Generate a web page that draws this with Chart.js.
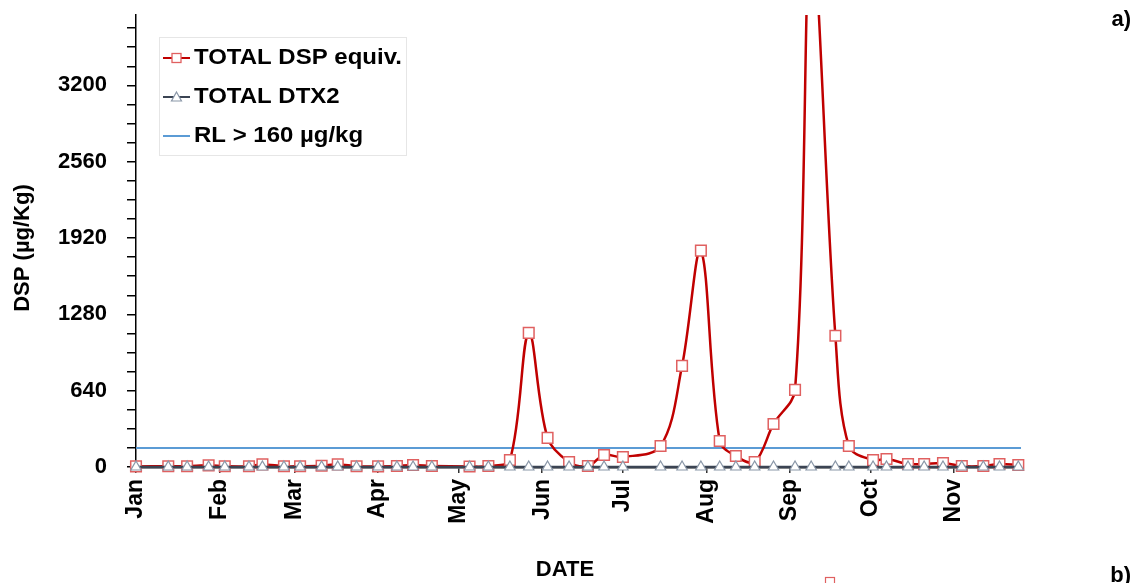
<!DOCTYPE html>
<html lang="en">
<head>
    <meta charset="UTF-8">
    <title>DSP toxins - panel a</title>
    <style>
        body { margin: 0; background: #fff; }
        #wrap { position: relative; width: 1140px; height: 583px; }
    </style>
</head>
<body>
    <div id="wrap"><canvas id="dspChart"></canvas></div>

    <script src="https://cdn.jsdelivr.net/npm/chart.js"></script>
    <script>
        // x values are day-of-year (Jan 1 = 0)
        const monthDays = [0, 31, 59, 90, 120, 151, 181, 212, 243, 273, 304];
        const monthNames = ['Jan', 'Feb', 'Mar', 'Apr', 'May', 'Jun', 'Jul', 'Aug', 'Sep', 'Oct', 'Nov'];

        const sampleDays = [0, 12, 19, 27, 33, 42, 47, 55, 61, 69, 75, 82, 90, 97, 103, 110, 124, 131,
            139, 146, 153, 161, 168, 174, 181, 195, 203, 210, 217, 223, 230, 237, 245, 251, 260, 265,
            274, 279, 287, 293, 300, 307, 315, 321, 328];
        const dspValues = [5, 6, 6, 14, 6, 6, 22, 6, 6, 10, 22, 6, 5, 8, 17, 8, 4, 8,
            59, 1125, 244, 42, 8, 101, 84, 176, 848, 1814, 218, 92, 42, 361, 647, 4500, 1100, 176,
            58, 67, 25, 25, 33, 8, 8, 25, 17];
        const dtx2Values = [0, 0, 0, 0, 0, 0, 0, 0, 0, 0, 0, 0, 0, 0, 0, 0, 0, 0,
            0, 0, 0, 0, 0, 0, 0, 0, 0, 0, 0, 0, 0, 0, 0, 0, 0, 0,
            0, 0, 0, 0, 0, 0, 0, 0, 0];
        const rlDays = [0, 329];
        const rlValues = [160, 160];

        const boldFont = { family: "'Liberation Sans', Arial, sans-serif", size: 22, weight: 'bold' };
        const boldCss = "bold 22px 'Liberation Sans', Arial, sans-serif";

        // legend, axis titles and panel letters drawn on top
        const extras = {
            id: 'extras',
            afterDraw(chart) {
                const ctx = chart.ctx;
                ctx.save();
                ctx.fillStyle = '#fff';
                ctx.fillRect(159.5, 37.5, 247, 118);
                ctx.strokeStyle = '#e6e6e6';
                ctx.lineWidth = 1;
                ctx.strokeRect(159.5, 37.5, 247, 118);

                const rows = [
                    { y: 58, line: '#C00000', text: 'TOTAL DSP equiv.', mark: 'rect' },
                    { y: 97, line: '#3B4453', text: 'TOTAL DTX2', mark: 'tri' },
                    { y: 136, line: '#5B9BD5', text: 'RL > 160 µg/kg', mark: null }
                ];
                ctx.textBaseline = 'middle';
                rows.forEach(r => {
                    ctx.strokeStyle = r.line;
                    ctx.lineWidth = 2;
                    ctx.beginPath();
                    ctx.moveTo(163, r.y);
                    ctx.lineTo(190, r.y);
                    ctx.stroke();
                    if (r.mark === 'rect') {
                        ctx.fillStyle = '#fff';
                        ctx.fillRect(172, r.y - 4.5, 9, 9);
                        ctx.strokeStyle = '#E06060';
                        ctx.lineWidth = 1.3;
                        ctx.strokeRect(172, r.y - 4.5, 9, 9);
                    } else if (r.mark === 'tri') {
                        ctx.fillStyle = '#fff';
                        ctx.strokeStyle = '#8a97a8';
                        ctx.lineWidth = 1.2;
                        ctx.beginPath();
                        ctx.moveTo(176.5, r.y - 5);
                        ctx.lineTo(181.5, r.y + 4);
                        ctx.lineTo(171.5, r.y + 4);
                        ctx.closePath();
                        ctx.fill();
                        ctx.stroke();
                    }
                    // reference text is a little wider than the font
                    ctx.save();
                    ctx.translate(194, r.y);
                    ctx.scale(1.09, 1);
                    ctx.font = boldCss;
                    ctx.fillStyle = '#000';
                    ctx.fillText(r.text, 0, 0);
                    ctx.restore();
                });

                ctx.font = boldCss;
                ctx.fillStyle = '#000';
                ctx.textBaseline = 'middle';

                ctx.textAlign = 'center';
                ctx.fillText('DATE', 565, 570);
                ctx.save();
                ctx.translate(23, 248);
                ctx.rotate(-Math.PI / 2);
                ctx.fillText('DSP (µg/Kg)', 0, 0);
                ctx.restore();

                ctx.textAlign = 'right';
                ctx.fillText('a)', 1131, 20);
                ctx.fillText('b)', 1131, 576);

                // top of the next panel peeking in
                ctx.strokeStyle = '#E06060';
                ctx.lineWidth = 1.2;
                ctx.strokeRect(825.5, 577.5, 9, 9);
                ctx.restore();
            }
        };

        new Chart(document.getElementById('dspChart'), {
            type: 'line',
            data: {
                datasets: [
                    {
                        label: 'TOTAL DTX2',
                        data: sampleDays.map((d, i) => ({ x: d, y: dtx2Values[i] })),
                        borderColor: '#3B4453',
                        borderWidth: 2.5,
                        pointStyle: 'triangle',
                        pointRadius: 6,
                        pointBackgroundColor: '#fff',
                        pointBorderColor: '#8a97a8',
                        pointBorderWidth: 1.2,
                        tension: 0,
                        order: 0,
                        clip: { left: 10, right: 10, top: 0, bottom: 10 }
                    },
                    {
                        label: 'TOTAL DSP equiv.',
                        data: sampleDays.map((d, i) => ({ x: d, y: dspValues[i] })),
                        borderColor: '#C00000',
                        borderWidth: 2.5,
                        pointStyle: 'rect',
                        pointRadius: 7.5,
                        pointBackgroundColor: '#fff',
                        pointBorderColor: '#E06060',
                        pointBorderWidth: 1.5,
                        tension: 0.35,
                        capBezierPoints: false,
                        order: 1,
                        clip: { left: 10, right: 10, top: 0, bottom: 10 }
                    },
                    {
                        label: 'RL > 160 µg/kg',
                        data: rlDays.map((d, i) => ({ x: d, y: rlValues[i] })),
                        borderColor: '#5B9BD5',
                        borderWidth: 2,
                        pointRadius: 0,
                        order: 2
                    }
                ]
            },
            options: {
                responsive: true,
                maintainAspectRatio: false,
                animation: false,
                events: [],
                layout: { padding: { top: 15, right: 119, left: 0, bottom: 0 } },
                plugins: {
                    legend: { display: false },
                    tooltip: { enabled: false }
                },
                scales: {
                    x: {
                        type: 'linear',
                        min: 0,
                        max: 329,
                        afterBuildTicks: s => { s.ticks = monthDays.map(v => ({ value: v })); },
                        afterFit: s => { s.height = 116; s.paddingLeft = 0; s.paddingRight = 0; },
                        ticks: {
                            autoSkip: false,
                            minRotation: 90,
                            maxRotation: 90,
                            padding: 6,
                            color: '#000',
                            font: { ...boldFont, size: 23 },
                            callback: v => monthNames[monthDays.indexOf(v)]
                        },
                        grid: { drawOnChartArea: false, tickLength: 6, color: '#333', lineWidth: 1.5 },
                        border: { color: '#3a3a3a', width: 2.5 }
                    },
                    y: {
                        min: 0,
                        max: 3790,
                        afterBuildTicks: s => {
                            const t = [];
                            for (let v = 0; v <= 3680; v += 160) t.push({ value: v });
                            s.ticks = t;
                        },
                        afterFit: s => { s.width = 136; s.paddingTop = 0; s.paddingBottom = 0; },
                        ticks: {
                            autoSkip: false,
                            padding: 20,
                            color: '#000',
                            font: boldFont,
                            callback: v => (v % 640 === 0 ? String(v) : '')
                        },
                        grid: { drawOnChartArea: false, tickLength: 9, color: '#000', lineWidth: 1.5 },
                        border: { color: '#000', width: 1.5 }
                    }
                }
            },
            plugins: [extras]
        });
    </script>
</body>
</html>
